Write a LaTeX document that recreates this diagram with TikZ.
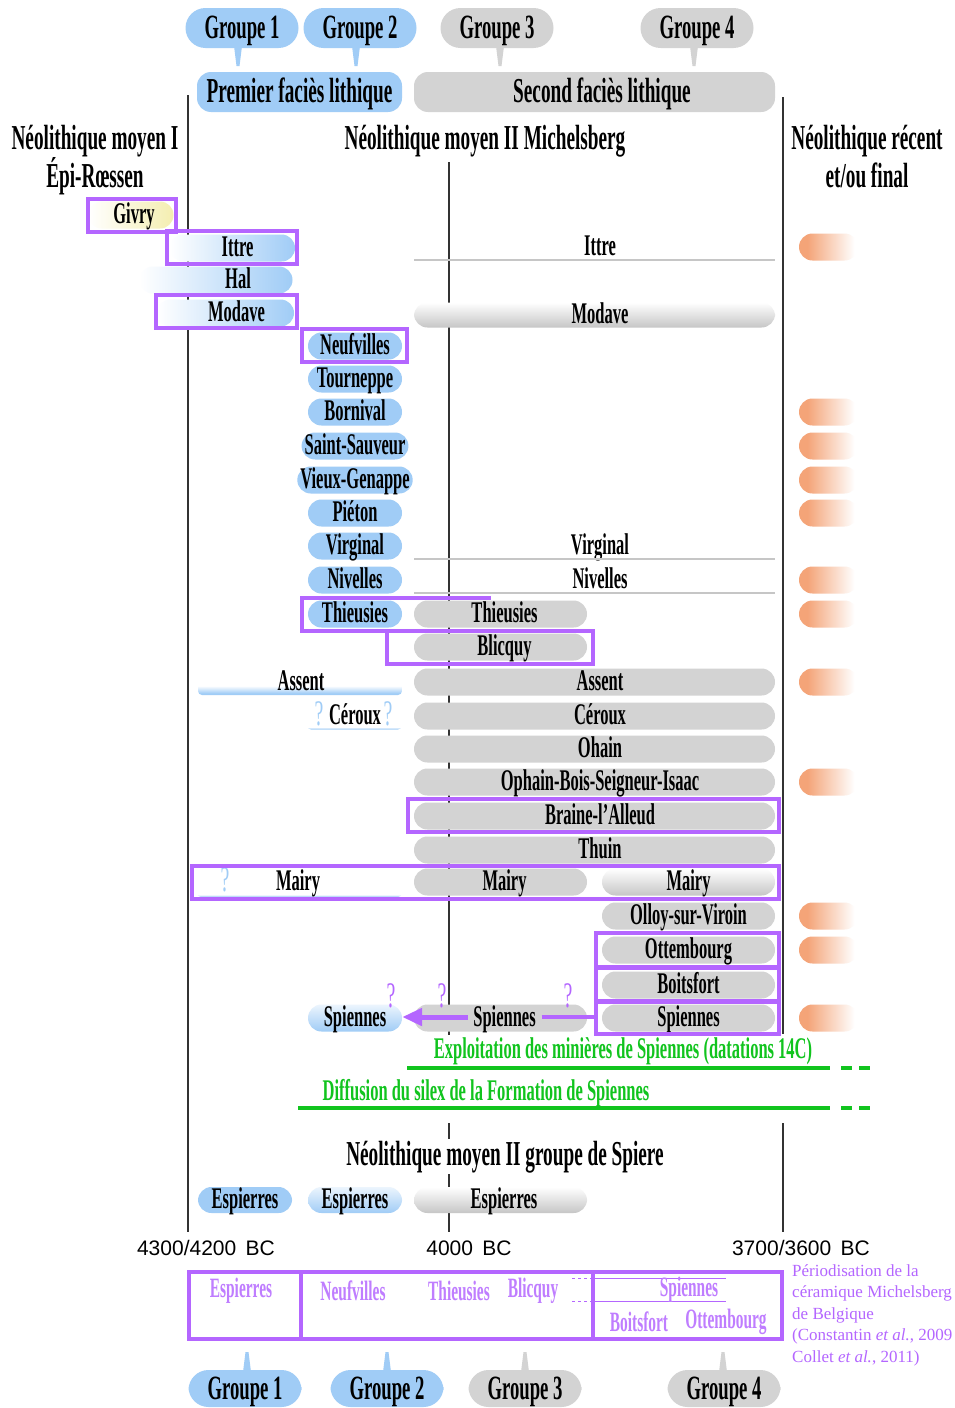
\documentclass[tikz,border=0pt]{standalone}
\usepackage{fontspec}
\setmainfont{Liberation Serif}
\newfontfamily\cf[FakeStretch=0.55]{Liberation Serif}
\newfontfamily\af{Liberation Sans}
\usetikzlibrary{arrows.meta}
\definecolor{blueC}{HTML}{A0CCF6}
\definecolor{grayC}{HTML}{D3D3D3}
\definecolor{grayB}{HTML}{C6C6C6}
\definecolor{purpC}{HTML}{B466FF}
\definecolor{greenC}{HTML}{11C41E}
\definecolor{oranC}{HTML}{F4A478}
\definecolor{yelC}{HTML}{F4EEB0}
\definecolor{lineC}{HTML}{333333}
\pgfdeclarehorizontalshading{orfade}{100bp}{color(0bp)=(oranC); color(32bp)=(oranC); color(72bp)=(white); color(100bp)=(white)}
\pgfdeclareverticalshading{bluebot}{100bp}{color(0bp)=(blueC); color(28bp)=(blueC); color(42bp)=(white); color(100bp)=(white)}
\tikzset{
  lab/.style={font=\cf\bfseries\fontsize{30}{30}\selectfont, inner sep=0pt, text height=19pt, text depth=3pt},
  pill/.style={lab, rounded corners=13.5pt, minimum height=27pt, inner xsep=3pt},
  bpill/.style={pill, fill=blueC, minimum width=94pt},
  gpill/.style={pill, fill=grayC},
  midpill/.style={gpill, minimum width=173pt, execute at begin node={\hspace*{8pt}}},
  rpill/.style={gpill, minimum width=173pt},
  longpill/.style={gpill, minimum width=361pt, execute at begin node={\hspace*{11pt}}},
  lfade/.style={pill, left color=white, right color=blueC},
  vfade/.style={pill, top color=blueC!20!white, bottom color=blueC, minimum width=94pt},
  gfade/.style={pill, top color=white, bottom color=grayB},
  ubar/.style={shading=bluebot, rounded corners=4pt, inner sep=0pt},
  opill/.style={rounded corners=13.5pt, minimum height=27pt, minimum width=59pt, shading=orfade, inner sep=0pt},
  pbox/.style={draw=purpC, line width=3.3pt},
  vline/.style={draw=lineC, line width=1.8pt},
  gline/.style={draw=grayB, line width=2.5pt},
  bubble/.style={font=\cf\bfseries\fontsize{34}{34}\selectfont, rounded corners=20pt, minimum height=40pt, minimum width=113pt, inner sep=0pt, text height=23pt, text depth=2pt},
  facies/.style={font=\cf\bfseries\fontsize{35}{35}\selectfont, rounded corners=14pt, minimum height=40pt, inner sep=0pt, text height=23pt, text depth=3pt},
  head/.style={font=\cf\bfseries\fontsize{35}{35}\selectfont, inner sep=1pt, fill=white, text height=23pt, text depth=4pt},
  gtxt/.style={font=\cf\bfseries\fontsize{30}{30}\selectfont, text=greenC, inner sep=0pt},
  grline/.style={draw=greenC, line width=4pt},
  qm/.style={font=\cf\fontsize{36}{36}\selectfont, inner sep=0pt},
  plab/.style={font=\cf\bfseries\fontsize{28}{28}\selectfont, text=purpC!85!white, inner sep=0pt},
  date/.style={font=\af\fontsize{21}{21}\selectfont, inner sep=0pt},
}
\begin{document}
\begin{tikzpicture}[x=1pt,y=-1pt]
\useasboundingbox[fill=white] (0,0) rectangle (955,1408);

% vertical time lines
\coordinate (va1) at (188,95);  \coordinate (va2) at (188,1232);
\coordinate (vb1) at (449,162); \coordinate (vb2) at (449,1035);
\coordinate (vb3) at (449,1123); \coordinate (vb4) at (449,1232);
\coordinate (vc1) at (783,97);  \coordinate (vc2) at (783,1034);
\coordinate (vc3) at (783,1123); \coordinate (vc4) at (783,1232);
\draw[vline] (va1) -- (va2);
\draw[vline] (vb1) -- (vb2);
\draw[vline] (vb3) -- (vb4);
\draw[vline] (vc1) -- (vc2);
\draw[vline] (vc3) -- (vc4);

% top group bubbles
\fill[blueC] (234,46) -- (242,46) -- (239.5,66) -- (236.5,66) -- cycle;
\fill[blueC] (352,46) -- (360,46) -- (357.5,66) -- (354.5,66) -- cycle;
\fill[grayC] (496,46) -- (504,46) -- (501.5,66) -- (498.5,66) -- cycle;
\fill[grayC] (690,46) -- (698,46) -- (695.5,66) -- (692.5,66) -- cycle;
\node[bubble, fill=blueC] (g1) at (242,28) {Groupe 1};
\node[bubble, fill=blueC] (g2) at (360,28) {Groupe 2};
\node[bubble, fill=grayC] (g3) at (497,28) {Groupe 3};
\node[bubble, fill=grayC] (g4) at (697,28) {Groupe 4};
\node[facies, fill=blueC, minimum width=205pt] (f1) at (299.5,92) {Premier faciès lithique};
\node[facies, fill=grayC, minimum width=361pt, execute at begin node={\hspace*{15pt}}] (f2) at (594.5,92) {Second faciès lithique};

% period headings
\node[head] (h1) at (95,140) {Néolithique moyen I};
\node[head] (h1b) at (95,178) {Épi-Rœssen};
\node[head, fill=none] (h2) at (485,140) {Néolithique moyen II Michelsberg};
\node[head] (h3) at (867,140) {Néolithique récent};
\node[head] (h3b) at (867,178) {et/ou final};

% Givry / Ittre / Hal / Modave
\node[pill, left color=white, right color=yelC, minimum width=85pt] (givbg) at (131,215) {};
\node[lab] (givry) at (134,215) {Givry};
\node[lfade, minimum width=125pt] (itbg) at (232.5,248) {};
\node[lab] (ittre) at (237.5,248) {Ittre};
\node[lfade, minimum width=153pt] (halbg) at (216,280) {};
\node[lab] (hal) at (238,280) {Hal};
\node[lfade, minimum width=137pt] (modbg) at (225.5,313) {};
\node[lab] (modave) at (236.5,313) {Modave};
\node[lab] (ittreR) at (600,247) {Ittre};
\draw[gline] (414,260) -- (775,260);
\node[gfade, minimum width=361pt, minimum height=25pt, execute at begin node={\hspace*{11pt}}] (modR) at (594.5,315) {Modave};

% Groupe 2 sites
\node[bpill] (neuf) at (355,346) {Neufvilles};
\node[bpill] (tour) at (355,379) {Tourneppe};
\node[bpill] (born) at (355,412) {Bornival};
\node[bpill] (ssau) at (355,446) {Saint-Sauveur};
\node[bpill] (vgen) at (355,480) {Vieux-Genappe};
\node[bpill] (piet) at (355,513) {Piéton};
\node[bpill] (virg) at (355,546) {Virginal};
\node[bpill] (nive) at (355,580) {Nivelles};
\node[bpill] (thie) at (355,614) {Thieusies};
\node[lab] (virgR) at (600,546) {Virginal};
\draw[gline] (414,559) -- (775,559);
\node[lab] (niveR) at (600,580) {Nivelles};
\draw[gline] (414,593) -- (775,593);

% Groupe 3 / 4 sites
\node[midpill] (thieM) at (500.5,614) {Thieusies};
\node[midpill] (blicM) at (500.5,647) {Blicquy};
\node[ubar, minimum width=204pt, minimum height=27pt] (assL) at (300,681.5) {};
\node[lab] (assent) at (301,682) {Assent};
\node[longpill] (assR) at (594.5,682) {Assent};
\node[ubar, minimum width=95pt, minimum height=7pt] (cerbar) at (354.5,726) {};
\node[lab] (cerL) at (355,716) {Céroux};
\node[qm, text=blueC] (q1) at (319,714) {?};
\node[qm, text=blueC] (q2) at (388,714) {?};
\node[longpill] (cerR) at (594.5,716) {Céroux};
\node[longpill] (ohain) at (594.5,749) {Ohain};
\node[longpill] (ophain) at (594.5,782) {Ophain-Bois-Seigneur-Isaac};
\node[longpill] (braine) at (594.5,816) {Braine-l’Alleud};
\node[longpill] (thuin) at (594.5,850) {Thuin};
\node[ubar, minimum width=205pt, minimum height=7pt] (mairbar) at (299.5,893.5) {};
\node[qm, text=blueC] (q3) at (225,880) {?};
\node[lab] (mairL) at (298,882) {Mairy};
\node[midpill] (mairM) at (500.5,882) {Mairy};
\node[gfade, minimum width=173pt] (mairR) at (688.5,882) {Mairy};
\node[rpill] (olloy) at (688.5,916) {Olloy-sur-Viroin};
\node[rpill] (otte) at (688.5,950) {Ottembourg};
\node[rpill] (boit) at (688.5,985) {Boitsfort};
\node[rpill] (spiR) at (688.5,1018) {Spiennes};
\node[midpill] (spiM) at (500.5,1018) {Spiennes};
\node[vfade] (spiL) at (355,1018) {Spiennes};

% orange bars (Neolithique recent)
\foreach \n/\y in {o1/247,o2/412,o3/446,o4/480,o5/513,o6/580,o7/614,o8/682,o9/782,o10/916,o11/950,o12/1018}
  \node[opill] (\n) at (828.5,\y) {};

% purple boxes
\draw[pbox] (88,199) rectangle (176,232);
\draw[pbox] (167,231) rectangle (297,264);
\draw[pbox] (156,295) rectangle (297,328);
\draw[pbox] (302,329) rectangle (407,362);
\draw[pbox] (491,598) -- (302,598) -- (302,631) -- (491,631);
\draw[pbox] (387,631) rectangle (593,664);
\draw[pbox] (408,799) rectangle (779,832);
\draw[pbox] (192,866) rectangle (779,899);
\draw[pbox] (596,933) rectangle (779,967);
\draw[pbox] (596,968) rectangle (779,1001);
\draw[pbox] (596,1002) rectangle (779,1034);

% Spiennes arrows
\coordinate (spiRw) at (596,1017);
\draw[purpC, line width=5pt, -{Triangle[length=20pt,width=17pt]}] ([xshift=-33pt,yshift=1pt]spiM.center) -- ([yshift=1pt]spiL.east);
\draw[purpC, line width=4pt] ([xshift=41pt,yshift=1pt]spiM.center) -- (spiRw);
\node[qm, text=purpC] (q4) at (391,996) {?};
\node[qm, text=purpC] (q5) at (442,996) {?};
\node[qm, text=purpC] (q6) at (568,996) {?};

% green flint lines
\node[gtxt] (expl) at (623,1051) {Exploitation des minières de Spiennes (datations 14C)};
\draw[grline] (407,1068) -- (830,1068);
\draw[grline] (841,1068) -- (852,1068);
\draw[grline] (859,1068) -- (870,1068);
\node[gtxt] (diff) at (486,1093) {Diffusion du silex de la Formation de Spiennes};
\draw[grline] (298,1108) -- (830,1108);
\draw[grline] (841,1108) -- (852,1108);
\draw[grline] (859,1108) -- (870,1108);

% Spiere group
\node[head, inner sep=4pt] (h4) at (505,1156) {Néolithique moyen II groupe de Spiere};
\node[bpill, minimum height=26pt] (esp1) at (245,1200) {Espierres};
\node[vfade, minimum height=26pt] (esp2) at (355,1200) {Espierres};
\node[gfade, minimum width=173pt, minimum height=26pt, execute at begin node={\hspace*{7pt}}] (esp3) at (500.5,1200) {Espierres};

% dates
\node[date] (d1) at (206,1248) {4300/4200\hspace{0.45em}BC};
\node[date] (d2) at (469,1248) {4000\hspace{0.45em}BC};
\node[date] (d3) at (801,1248) {3700/3600\hspace{0.45em}BC};

% periodisation box
\draw[draw=purpC, line width=4pt] (189,1272) rectangle (782,1339);
\draw[draw=purpC, line width=4pt] (301,1272) -- (301,1339);
\draw[draw=purpC, line width=4pt] (593,1272) -- (593,1339);
\draw[draw=purpC, line width=1pt] (593,1278) -- (726,1278);
\draw[draw=purpC, line width=1pt] (593,1301) -- (726,1301);
\draw[draw=purpC, line width=0.8pt, dashed] (572,1278) -- (593,1278);
\draw[draw=purpC, line width=0.8pt, dashed] (572,1301) -- (593,1301);
\node[plab] (pesp) at (241,1291) {Espierres};
\node[plab] (pneu) at (353,1291) {Neufvilles};
\node[plab] (pthi) at (459,1291) {Thieusies};
\node[plab] (pbli) at (533,1291) {Blicquy};
\node[plab] (pspi) at (689,1290) {Spiennes};
\node[plab] (pboi) at (639,1322) {Boitsfort};
\node[plab] (pott) at (726,1322) {Ottembourg};
\node[anchor=north west, inner sep=0pt, align=left, text=purpC, font=\fontsize{17}{21.5}\selectfont] (cap) at (792,1264)
  {Périodisation de la\\céramique Michelsberg\\de Belgique\\(Constantin \textit{et al.}, 2009\\Collet \textit{et al.}, 2011)};

% bottom group bubbles
\fill[blueC] (243,1372) -- (251,1372) -- (248.5,1352) -- (245.5,1352) -- cycle;
\fill[blueC] (383,1372) -- (391,1372) -- (388.5,1352) -- (385.5,1352) -- cycle;
\fill[grayC] (521,1372) -- (529,1372) -- (526.5,1352) -- (523.5,1352) -- cycle;
\fill[grayC] (719,1372) -- (727,1372) -- (724.5,1352) -- (721.5,1352) -- cycle;
\node[bubble, fill=blueC, minimum height=37pt] (b1) at (245,1388.5) {Groupe 1};
\node[bubble, fill=blueC, minimum height=37pt] (b2) at (387,1388.5) {Groupe 2};
\node[bubble, fill=grayC, minimum height=37pt] (b3) at (525,1388.5) {Groupe 3};
\node[bubble, fill=grayC, minimum height=37pt] (b4) at (724,1388.5) {Groupe 4};
\end{tikzpicture}
\end{document}
